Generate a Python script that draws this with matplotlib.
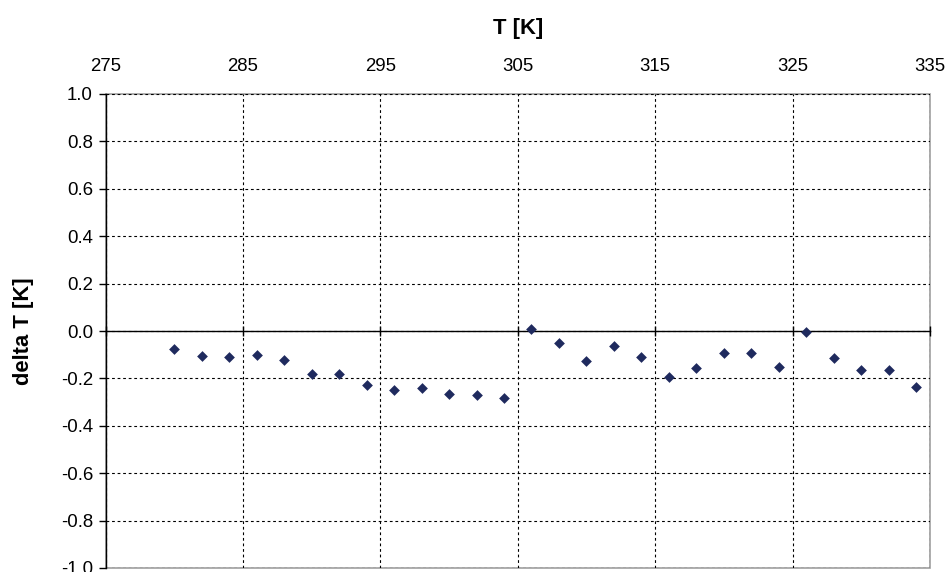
import matplotlib
matplotlib.use("Agg")
import matplotlib.pyplot as plt
from matplotlib.patches import Rectangle

plt.rcParams['font.family'] = ['Liberation Sans', 'DejaVu Sans']

T = [280, 282, 284, 286, 288, 290, 292, 294, 296, 298, 300, 302, 304,
     306, 308, 310, 312, 314, 316, 318, 320, 322, 324, 326, 328, 330, 332, 334]
dT = [-0.075, -0.105, -0.11, -0.10, -0.121, -0.18, -0.18, -0.226, -0.248, -0.24,
      -0.266, -0.271, -0.281, 0.008, -0.049, -0.125, -0.065, -0.11, -0.195, -0.155,
      -0.094, -0.094, -0.15, -0.003, -0.114, -0.166, -0.166, -0.236]
xticks = [275, 285, 295, 305, 315, 325, 335]
yticks = [-1.0, -0.8, -0.6, -0.4, -0.2, 0.0, 0.2, 0.4, 0.6, 0.8, 1.0]

fig = plt.figure(figsize=(9.47, 5.72), dpi=100)
ax = fig.add_axes([105.5/947, 1 - 568/572, (930 - 105.5)/947, (568 - 94)/572])

ax.set_xlim(275, 335)
ax.set_ylim(-1.0, 1.0)
ax.set_xticks(xticks)
ax.set_yticks(yticks)
ax.set_yticklabels([f"{v:.1f}" for v in yticks])

ax.grid(True, color='black', linewidth=0.8, linestyle=(0, (2.5, 2.5)))
ax.set_axisbelow(True)

# spines
for s in ['top', 'right']:
    ax.spines[s].set_visible(False)
ax.spines['left'].set_color('black')
ax.spines['left'].set_linewidth(1.0)
ax.spines['bottom'].set_position(('data', 0))
ax.spines['bottom'].set_color('black')
ax.spines['bottom'].set_linewidth(1.0)
ax.add_patch(Rectangle((0, 0), 1, 1, transform=ax.transAxes, fill=False,
                       edgecolor='#a0a0a0', linewidth=1.2, zorder=0.5, clip_on=False))

ax.tick_params(axis='x', which='both', bottom=True, top=False, labelbottom=False,
               labeltop=True, direction='inout', length=7, width=1.0,
               labelsize=13.4, pad=10.5)
ax.tick_params(axis='y', direction='out', length=5, width=1.0, labelsize=13.4, pad=4)

ax.scatter(T, dT, marker='D', s=30, color='#1f2a5e', zorder=3, linewidths=0)

ax.xaxis.set_label_position('top')
ax.set_xlabel('T [K]', fontsize=15.8, fontweight='bold', labelpad=17)
ax.set_ylabel('delta T [K]', fontsize=15.8, fontweight='bold', labelpad=19)

fig.savefig('out.png', dpi=100)
